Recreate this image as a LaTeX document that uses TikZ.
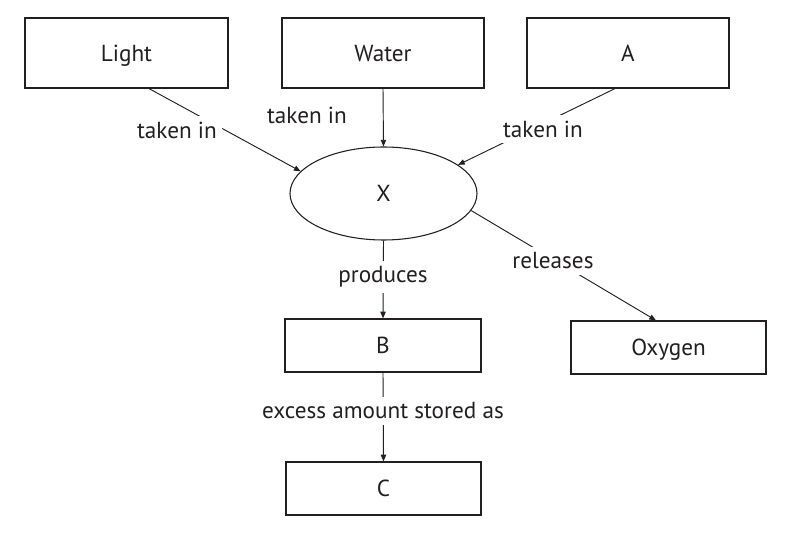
\documentclass[tikz,border=0pt]{standalone}
\usepackage{fontspec}
\setmainfont{PT Sans}
\usetikzlibrary{arrows.meta,shapes.geometric}
\definecolor{ink}{RGB}{35,31,32}
\begin{document}
\begin{tikzpicture}[x=0.75pt,y=-0.75pt,
  font=\fontsize{17.4}{20}\selectfont,
  box/.style={draw=ink, line width=0.9pt, rectangle, text=ink, text height=12.2pt, text depth=0pt},
  oval/.style={draw=ink, line width=0.8pt, ellipse, inner sep=0pt, text=ink, text height=12.2pt, text depth=0pt},
  conn/.style={draw=ink, line width=0.7pt, -{Triangle[length=5pt,width=4pt]}},
  lbl/.style={fill=white, text=ink, inner xsep=4pt, inner ysep=4pt}]
\useasboundingbox (0,0) rectangle (792,534);
\fill[white] (0,0) rectangle (792,534);
% nodes
\node[box, minimum width=152.25pt, minimum height=52.5pt] (light) at (126.5,53) {Light};
\node[box, minimum width=151.5pt, minimum height=52.5pt] (water) at (383,53) {Water};
\node[box, minimum width=151.5pt, minimum height=52.5pt] (a) at (628,53) {A};
\node[oval, minimum width=140.25pt, minimum height=69.75pt] (x) at (383.5,193.5) {X};
\node[box, minimum width=147pt, minimum height=39.75pt] (b) at (383,345.5) {B};
\node[box, minimum width=146.25pt, minimum height=39.75pt] (oxy) at (668.5,347.5) {Oxygen};
\node[box, minimum width=146.25pt, minimum height=39.75pt] (c) at (383.5,488.5) {C};
% connectors
\draw[conn] ([xshift=16.9pt]light.south) -- (x.165);
\draw[conn] (water.south) -- (x.north);
\draw[conn] ([xshift=-9.75pt]a.south) -- (x.21);
\draw[conn] (x.south) -- (b.north);
\draw[conn] (x.-11) -- ([xshift=-9.4pt]oxy.north);
\draw[conn] (b.south) -- (c.north);
% labels
\node[lbl] (l1) at (177,130) {taken in};
\node[lbl] (l2) at (307,115) {taken in};
\node[lbl] (l3) at (543,129) {taken in};
\node[lbl] (l4) at (383,277) {produces};
\node[lbl] (l5) at (553,261) {releases};
\node[lbl] (l6) at (383,411) {excess amount stored as};
\end{tikzpicture}
\end{document}
